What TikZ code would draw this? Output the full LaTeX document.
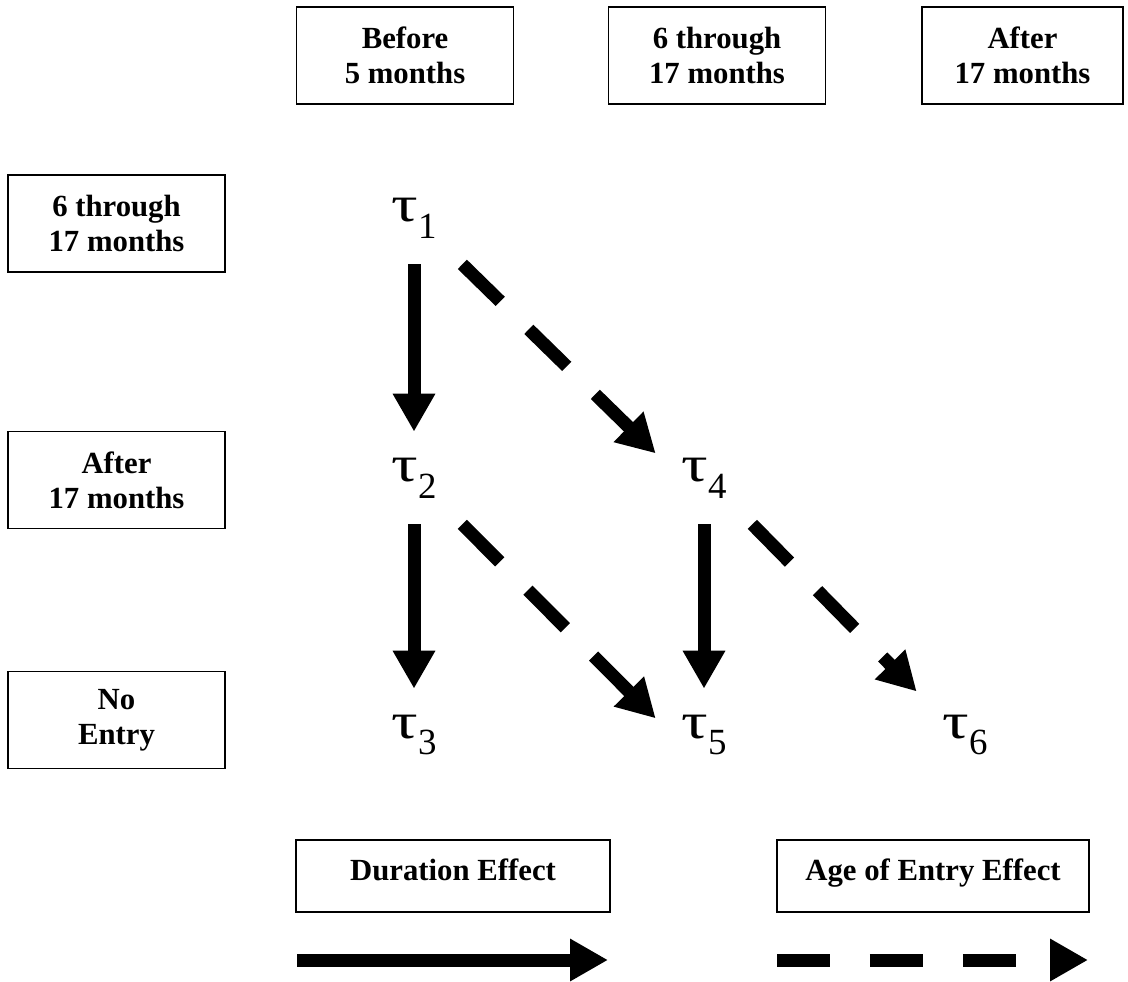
\documentclass[tikz,border=0pt]{standalone}
\usepackage{fontspec}
\setmainfont{Liberation Serif}
\usetikzlibrary{arrows.meta}

\newcommand{\boxfont}{\fontsize{17.5}{19.8}\selectfont\bfseries}
\newcommand{\tlab}[1]{\scalebox{1.3}[1]{\fontsize{29}{30}\selectfont τ}\raisebox{-9.6pt}{\fontsize{21}{22}\selectfont #1}}

\tikzset{
  hdrbox/.style={draw, line width=0.8pt, minimum width=4.34cm, minimum height=1.94cm,
    align=center, font=\boxfont, inner sep=0pt},
  keybox/.style={hdrbox, minimum width=6.28cm, minimum height=1.44cm,
    text height=11.6pt, text depth=6pt},
  taunode/.style={minimum width=1.92cm, minimum height=1.84cm, inner sep=0pt},
  durarrow/.style={line width=0.26cm, -{Triangle[width=0.8cm,length=0.76cm]}},
  agearrow/.style={durarrow, dash pattern=on 1.06cm off 0.8cm},
}

\begin{document}
\begin{tikzpicture}[x=0.02cm,y=-0.02cm]
\useasboundingbox (0,0) rectangle (1128,982);

% Column headings
\node[hdrbox] (c5) at (405,55.5) {Before\\5 months};
\node[hdrbox] (c617) at (717,55.5) {6 through\\17 months};
\node[hdrbox, minimum width=4.02cm] (c17) at (1022.5,55.5) {After\\17 months};

% Row headings
\node[hdrbox] (r617) at (116.5,223.5) {6 through\\17 months};
\node[hdrbox] (r17) at (116.5,480) {After\\17 months};
\node[hdrbox] (rno) at (116.5,720) {No\\Entry};

% Taus
\node[taunode] (t1) at (414,218) {\tlab{1}};
\node[taunode] (t2) at (414,478) {\tlab{2}};
\node[taunode] (t3) at (414,735) {\tlab{3}};
\node[taunode] (t4) at (704,478) {\tlab{4}};
\node[taunode] (t5) at (704,735) {\tlab{5}};
\node[taunode] (t6) at (965,735) {\tlab{6}};

% Duration effects
\draw[durarrow] (t1.south) -- (t2.north);
\draw[durarrow] (t2.south) -- (t3.north);
\draw[durarrow] (t4.south) -- (t5.north);

% Age of entry effects
\draw[agearrow] (t1.south east) -- (t4.153);
\draw[agearrow] (t2.south east) -- (t5.161);
\draw[agearrow] (t4.south east) -- (t6.138);

% Legend
\node[keybox] (dur) at (453,876) {Duration Effect};
\node[keybox, minimum width=6.24cm] (age) at (933,876) {Age of Entry Effect};

\coordinate (durA) at (297,960);
\coordinate (durB) at (608,960);
\coordinate (ageA) at (777,960);
\coordinate (ageB) at (1088,960);

\draw[durarrow] (durA) -- (durB);
\draw[agearrow] (ageA) -- (ageB);

\end{tikzpicture}
\end{document}
